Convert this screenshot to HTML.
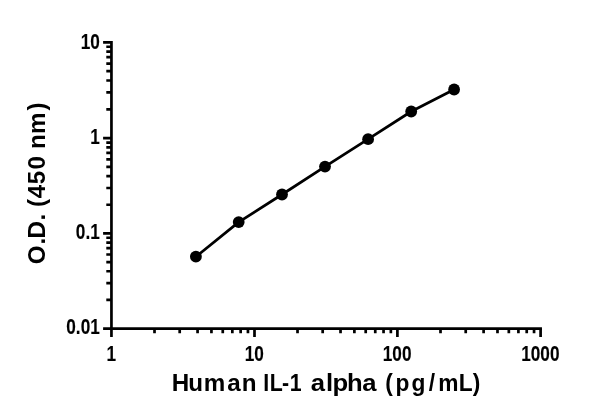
<!DOCTYPE html>
<html><head><meta charset="utf-8"><title>Human IL-1 alpha standard curve</title>
<style>
html,body{margin:0;padding:0;background:#fff;}
svg{display:block}
.n{stroke:#000;stroke-width:0.12px}
.t{font-family:"Liberation Sans",sans-serif;font-weight:bold;fill:#000}
</style></head>
<body>
<svg width="600" height="416" viewBox="0 0 600 416">
<rect width="600" height="416" fill="#fff"/>
<path d="M111.45 40.95V329.90" stroke="#000" stroke-width="2.7" fill="none"/>
<path d="M110.10 328.55H541.95" stroke="#000" stroke-width="2.7" fill="none"/>
<path d="M111.45 328.55v8.35M154.51 328.55v4.65M179.70 328.55v4.65M197.57 328.55v4.65M211.44 328.55v4.65M222.76 328.55v4.65M232.34 328.55v4.65M240.64 328.55v4.65M247.95 328.55v4.65M254.50 328.55v8.35M297.52 328.55v4.65M322.68 328.55v4.65M340.53 328.55v4.65M354.38 328.55v4.65M365.70 328.55v4.65M375.26 328.55v4.65M383.55 328.55v4.65M390.86 328.55v4.65M397.40 328.55v8.35M440.51 328.55v4.65M465.72 328.55v4.65M483.61 328.55v4.65M497.49 328.55v4.65M508.83 328.55v4.65M518.42 328.55v4.65M526.72 328.55v4.65M534.05 328.55v4.65M540.60 328.55v8.35M111.45 328.55h-8.35M111.45 299.91h-5.15M111.45 283.15h-5.15M111.45 271.26h-5.15M111.45 262.04h-5.15M111.45 254.51h-5.15M111.45 248.14h-5.15M111.45 242.62h-5.15M111.45 237.75h-5.15M111.45 233.40h-8.35M111.45 204.74h-5.15M111.45 187.98h-5.15M111.45 176.08h-5.15M111.45 166.86h-5.15M111.45 159.32h-5.15M111.45 152.95h-5.15M111.45 147.43h-5.15M111.45 142.56h-5.15M111.45 138.20h-8.35M111.45 109.35h-5.15M111.45 92.47h-5.15M111.45 80.49h-5.15M111.45 71.20h-5.15M111.45 63.61h-5.15M111.45 57.20h-5.15M111.45 51.64h-5.15M111.45 46.74h-5.15M111.45 42.35h-8.35" stroke="#000" stroke-width="2.7" fill="none"/>
<polyline points="195.9,256.7 238.7,222.1 282.0,194.5 325.0,166.6 368.1,139.2 411.2,111.5 454.1,89.5" stroke="#000" stroke-width="2.75" fill="none" stroke-linejoin="round"/>
<circle cx="195.9" cy="256.7" r="5.9" fill="#000"/>
<circle cx="238.7" cy="222.1" r="5.9" fill="#000"/>
<circle cx="282.0" cy="194.5" r="5.9" fill="#000"/>
<circle cx="325.0" cy="166.6" r="5.9" fill="#000"/>
<circle cx="368.1" cy="139.2" r="5.9" fill="#000"/>
<circle cx="411.2" cy="111.5" r="5.9" fill="#000"/>
<circle cx="454.1" cy="89.5" r="5.9" fill="#000"/>
<text transform="translate(99.80 48.55) scale(0.805 1)" text-anchor="end" font-size="21.4" class="t n">10</text>
<text transform="translate(99.80 143.55) scale(0.805 1)" text-anchor="end" font-size="21.4" class="t n">1</text>
<text transform="translate(99.80 238.70) scale(0.805 1)" text-anchor="end" font-size="21.4" class="t n">0.1</text>
<text transform="translate(99.80 333.80) scale(0.805 1)" text-anchor="end" font-size="21.4" class="t n">0.01</text>
<text transform="translate(111.20 360.50) scale(0.805 1)" text-anchor="middle" font-size="21.4" class="t n">1</text>
<text transform="translate(254.25 360.50) scale(0.805 1)" text-anchor="middle" font-size="21.4" class="t n">10</text>
<text transform="translate(397.15 360.50) scale(0.805 1)" text-anchor="middle" font-size="21.4" class="t n">100</text>
<text transform="translate(540.35 360.50) scale(0.805 1)" text-anchor="middle" font-size="21.4" class="t n">1000</text>
<text x="171.67 188.16 203.69 227.34 241.86" y="390.8" font-size="24.2" class="t">Human</text>
<text transform="scale(0.88 1)" x="299.08 306.43 320.36 329.27" y="390.8" font-size="24.2" class="t">IL-1</text>
<text transform="scale(1.06 1)" x="293.17 307.59 313.77 327.42 341.75" y="390.8" font-size="24.2" class="t">alpha</text>
<text transform="scale(0.94 1)" x="409.85 420.87 437.90 456.11 466.32 488.02 502.84" y="390.8" font-size="24.2" class="t">(pg/mL)</text>
<text transform="translate(44.7 263.4) rotate(-90)" x="-0.75 19.00 24.96 42.90" y="0" font-size="24.2" class="t">O.D.</text>
<text transform="translate(44.7 263.4) rotate(-90)" x="56.38 65.10 79.24 93.89" y="0" font-size="24.2" class="t">(450</text>
<text transform="translate(44.7 263.4) rotate(-90)" x="114.46 129.44 152.81" y="0" font-size="24.2" class="t">nm)</text>
</svg>
</body></html>
